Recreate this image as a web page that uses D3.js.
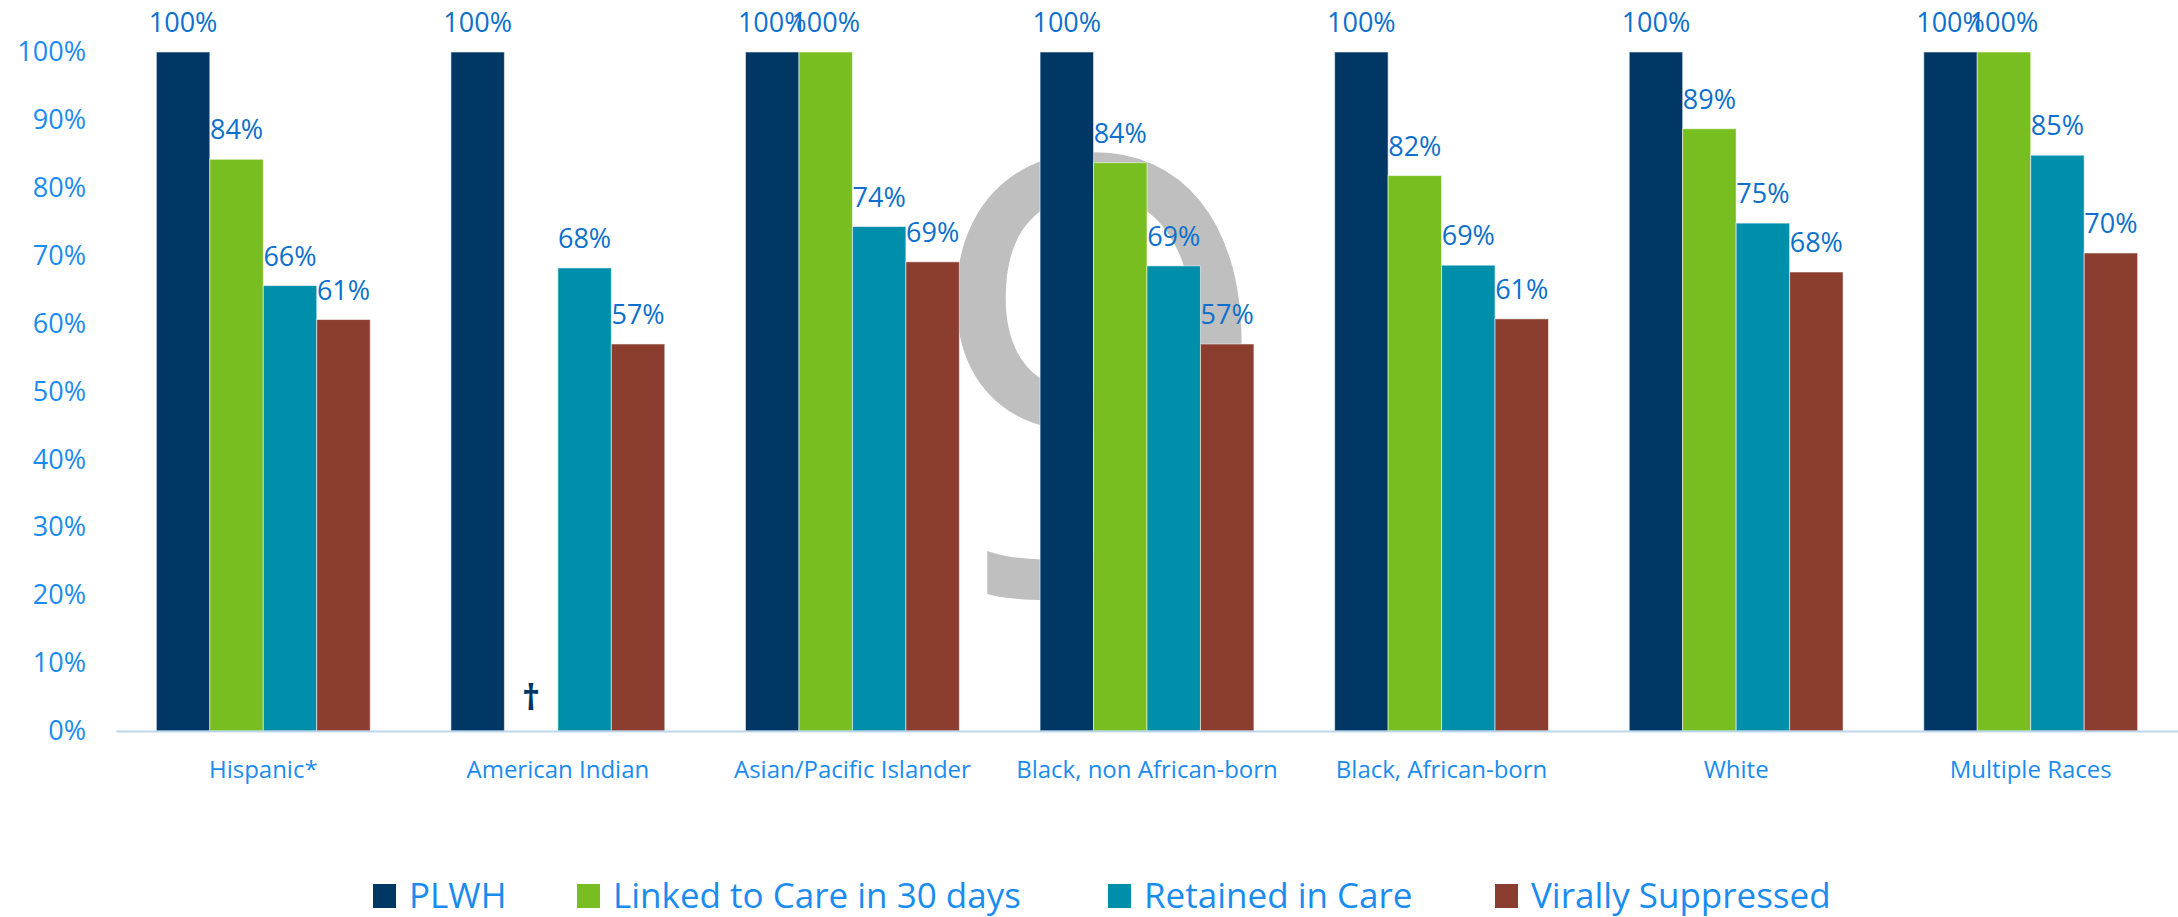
<!DOCTYPE html>
<meta charset="utf-8">
<style>
html, body {
  margin: 0;
  padding: 0;
  background: #fff;
}
svg text {
  font-family: "Open Sans", sans-serif;
}
.tick text {
  fill: #1a8cf0;
  font-size: 27px;
}
</style>
<svg id="chart" width="2178" height="917"></svg>
<script src="https://cdn.jsdelivr.net/npm/d3@7"></script>
<script>

// data
var categories = ["Hispanic*", "American Indian", "Asian/Pacific Islander",
  "Black, non African-born", "Black, African-born", "White", "Multiple Races"];
var series = ["PLWH", "Linked to Care in 30 days", "Retained in Care", "Virally Suppressed"];
var plwh     = [100, 100, 100, 100, 100, 100, 100];
var linked   = [84.2, null, 100, 83.7, 81.8, 88.7, 100];
var retained = [65.6, 68.2, 74.3, 68.5, 68.6, 74.8, 84.8];
var virally  = [60.6, 57.0, 69.1, 57.0, 60.7, 67.6, 70.4];
var yTicks = [0, 10, 20, 30, 40, 50, 60, 70, 80, 90, 100];
var colors = ["#003764", "#78be20", "#008fab", "#8b3e2f"];

var values = [plwh, linked, retained, virally];

var svg = d3.select("#chart");
var mLeft = 116, mRight = 2178, mTop = 52, mBottom = 731;

var x0 = d3.scaleBand().domain(categories).range([mLeft, mRight])
    .paddingInner(0.274).paddingOuter(0.137);
var x1 = d3.scaleBand().domain(series).range([0, x0.bandwidth()]);
var y = d3.scaleLinear().domain([0, 100]).range([mBottom, mTop]);

// big grey "9" sitting behind the bars
svg.append("text")
    .attr("x", 1100)
    .attr("y", 594)
    .attr("text-anchor", "middle")
    .style("font-size", "610px")
    .style("fill", "#bfbfbf")
    .text("9");

// y axis labels only
var yAxis = svg.append("g")
    .attr("transform", "translate(" + (mLeft - 30) + ",0)")
    .call(d3.axisLeft(y).tickValues(yTicks).tickSize(0).tickPadding(0)
      .tickFormat(function(d) { return d + "%"; }));
yAxis.select(".domain").remove();

var rows = [];
categories.forEach(function(c, i) {
  series.forEach(function(s, j) {
    rows.push({cat: c, ser: s, idx: j, v: values[j][i]});
  });
});

var groups = svg.append("g");

groups.selectAll("rect")
    .data(rows.filter(function(d) { return d.v != null; }))
    .enter().append("rect")
    .attr("x", function(d) { return x0(d.cat) + x1(d.ser); })
    .attr("y", function(d) { return y(d.v); })
    .attr("width", x1.bandwidth())
    .attr("height", function(d) { return y(0) - y(d.v); })
    .style("fill", function(d) { return colors[d.idx]; })
    .style("stroke", "rgba(255,255,255,0.55)")
    .style("stroke-width", 1);

groups.selectAll("text.val")
    .data(rows.filter(function(d) { return d.v != null; }))
    .enter().append("text")
    .attr("class", "val")
    .attr("x", function(d) { return x0(d.cat) + x1(d.ser) + x1.bandwidth() / 2; })
    .attr("y", function(d) { return y(d.v) - 20; })
    .attr("text-anchor", "middle")
    .style("font-size", "27px")
    .style("fill", "#0c70cc")
    .text(function(d) { return Math.round(d.v) + "%"; });

// dagger where the value is suppressed
groups.selectAll("text.miss")
    .data(rows.filter(function(d) { return d.v == null; }))
    .enter().append("text")
    .attr("class", "miss")
    .attr("x", function(d) { return x0(d.cat) + x1(d.ser) + x1.bandwidth() / 2; })
    .attr("y", y(0) - 21)
    .attr("text-anchor", "middle")
    .style("font-size", "35px")
    .style("font-weight", "bold")
    .style("fill", "#003764")
    .text("\u2020");

// x axis
var xAxis = svg.append("g")
    .attr("transform", "translate(0," + mBottom + ")")
    .call(d3.axisBottom(x0).tickSize(0).tickPadding(0));
xAxis.select(".domain")
    .style("stroke", "#bdd7ee")
    .style("stroke-width", 2);
xAxis.selectAll(".tick text")
    .attr("dy", 0)
    .attr("y", 47)
    .style("font-size", "24px");

// legend
var legendX = [373, 577, 1108, 1495];
var legend = svg.append("g").selectAll("g")
    .data(series)
    .enter().append("g")
    .attr("transform", function(d, i) { return "translate(" + legendX[i] + ",884)"; });

legend.append("rect")
    .attr("width", 23)
    .attr("height", 24)
    .style("fill", function(d, i) { return colors[i]; });

legend.append("text")
    .attr("x", 36)
    .attr("y", 24)
    .style("font-size", "35px")
    .style("fill", "#1a8cf0")
    .text(function(d) { return d; });

</script>
